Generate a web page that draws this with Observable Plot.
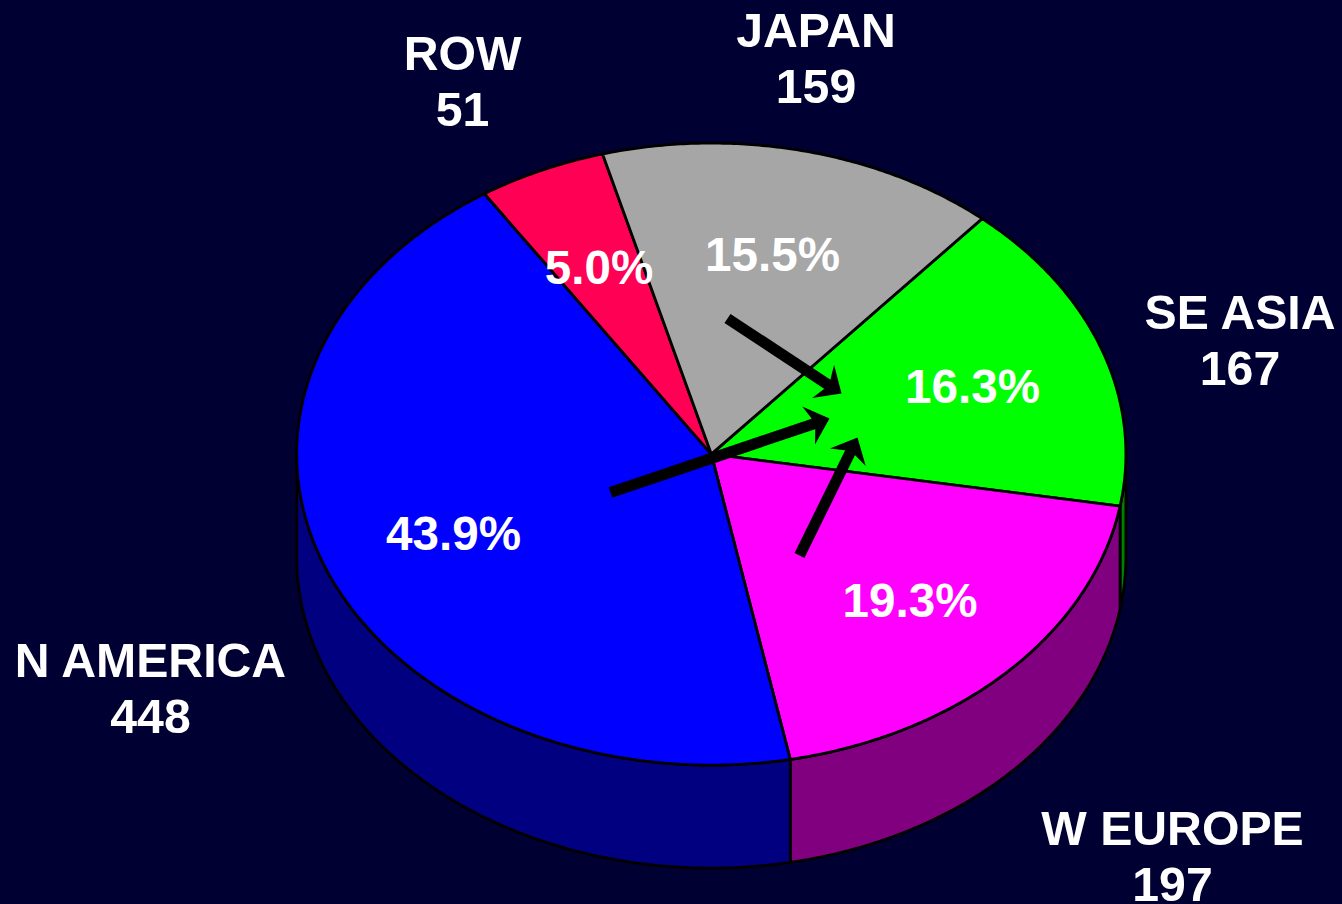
<!DOCTYPE html>
<html>
<head>
<meta charset="utf-8">
<script src="https://cdn.jsdelivr.net/npm/d3@7"></script>
<script src="https://cdn.jsdelivr.net/npm/@observablehq/plot@0.6"></script>
<style>
html,body{margin:0;padding:0;background:#000033;overflow:hidden}
svg{display:block}
</style>
</head>
<body>
<div id="chart"></div>
<script>
// Data, clockwise from the SE ASIA slice
const regions = ["SE ASIA", "W EUROPE", "N AMERICA", "ROW", "JAPAN"];
const values = [167, 197, 448, 51, 159];
const shares = [16.3, 19.3, 43.9, 5.0, 15.5];

// Colours
const topColors = ["#00FF00", "#FF00FF", "#0000FF", "#FF0055", "#A6A6A6"];
const sideColors = ["#008000", "#800080", "#000080", "#800030", "#535353"];

// Layout
const W = 1342, H = 904;
const cx = 710.8, cy = 453.6, rx = 414.6, ry = 311, depth = 103, startDeg = 40.8;
const nameX = [1239.5, 1172, 150, 462, 815.5];
const nameY = [338.5, 854.5, 686.5, 79.5, 56.5];
const shareX = [972, 909.5, 453, 598.5, 772];
const shareY = [384.5, 598.5, 531.5, 265.5, 252.5];

// Annotation arrows: tail and tip
const arrowTailX = [727, 610, 799];
const arrowTailY = [318, 492, 555];
const arrowTipX = [841, 829, 857];
const arrowTipY = [393, 418, 437];

const total = d3.sum(values);
let cum = startDeg;
const slices = regions.map((name, i) => {
  const a0 = cum;
  cum += values[i] / total * 360;
  return {name, a0, a1: cum, top: topColors[i], side: sideColors[i]};
});

const pt = (deg, dy = 0) => {
  const t = deg * Math.PI / 180;
  return {x: cx + rx * Math.sin(t), y: cy + dy - ry * Math.cos(t)};
};
const arc = (a0, a1, dy = 0) => {
  const n = Math.max(2, Math.ceil(Math.abs(a1 - a0) * 2));
  return d3.range(n + 1).map(k => pt(a0 + (a1 - a0) * k / n, dy));
};

const lineOpts = {x: "x", y: "y", stroke: "#000", strokeWidth: 2.8, strokeLinejoin: "round", curve: "linear"};

// Sides: only the part of the rim facing the viewer (90..270 degrees)
const sideMarks = slices.flatMap(s => {
  const a0 = Math.max(s.a0, 90), a1 = Math.min(s.a1, 270);
  if (a1 <= a0) return [];
  const top = arc(a0, a1), bottom = arc(a1, a0, depth);
  const poly = [...top, ...bottom, top[0]];
  return [Plot.line(poly, {...lineOpts, fill: s.side})];
});

// Top faces
const topMarks = slices.map(s => {
  const c = {x: cx, y: cy};
  return Plot.line([c, ...arc(s.a0, s.a1), c], {...lineOpts, fill: s.top});
});

// Arrows
const arrows = arrowTailX.map((x, i) => {
  const x2 = arrowTipX[i], y2 = arrowTipY[i], y = arrowTailY[i];
  const L = Math.hypot(x2 - x, y2 - y), ux = (x2 - x) / L, uy = (y2 - y) / L;
  const at = (along, perp) => ({x: x2 + ux * along - uy * perp, y: y2 + uy * along + ux * perp});
  return {
    shaft: [{x, y}, at(-14, 0)],
    head: [at(0, 0), at(-22, 20), at(-15, 0), at(-22, -20), at(0, 0)]
  };
});
const arrowMarks = arrows.flatMap(a => [
  Plot.line(a.shaft, {x: "x", y: "y", stroke: "#000", strokeWidth: 11, strokeLinecap: "butt", curve: "linear"}),
  Plot.line(a.head, {x: "x", y: "y", fill: "#000", stroke: "none", curve: "linear"})
]);

const textOpts = {fill: "#fff", fontFamily: "Liberation Sans, Arial, sans-serif", fontWeight: "bold", lineHeight: 56 / 48, textAnchor: "middle", lineAnchor: "middle", stroke: "none"};

const plot = Plot.plot({
  width: W,
  height: H,
  margin: 0,
  style: {background: "#000033"},
  x: {type: "linear", domain: [0, W], range: [0, W], axis: null},
  y: {type: "linear", domain: [0, H], range: [0, H], axis: null},
  marks: [
    ...sideMarks,
    ...topMarks,
    ...arrowMarks,
    Plot.text(regions, {...textOpts, fontSize: 48.2, x: (d, i) => nameX[i], y: (d, i) => nameY[i], text: (d, i) => `${d}\n${values[i]}`}),
    Plot.text(shares, {...textOpts, fontSize: 47.6, x: (d, i) => shareX[i], y: (d, i) => shareY[i], text: d => `${d.toFixed(1)}%`})
  ]
});
document.getElementById("chart").append(plot);
</script>
</body>
</html>
